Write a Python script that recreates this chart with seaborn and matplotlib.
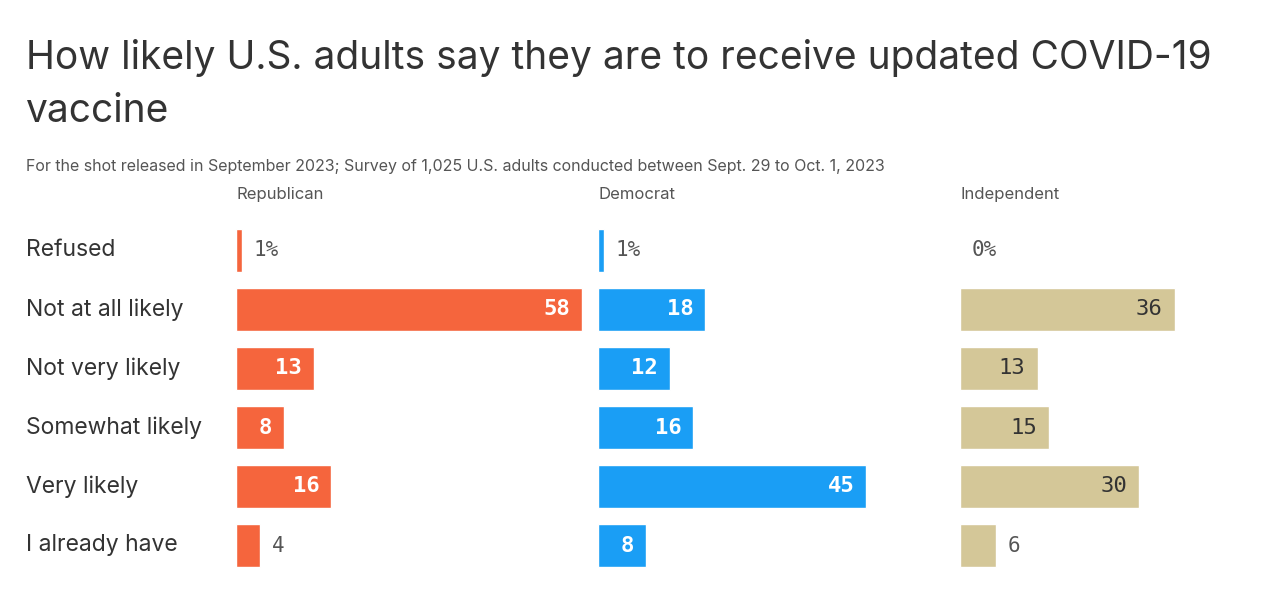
import matplotlib
matplotlib.use("Agg")
import matplotlib.pyplot as plt
import seaborn as sns

categories = ["Refused", "Not at all likely", "Not very likely",
              "Somewhat likely", "Very likely", "I already have"]
republican = [1, 58, 13, 8, 16, 4]
democrat = [1, 18, 12, 16, 45, 8]
independent = [0, 36, 13, 15, 30, 6]
groups = ["Republican", "Democrat", "Independent"]

sns.set_style("white")
plt.rcParams["font.family"] = ["Inter", "DejaVu Sans"]

W, H = 1280, 612
fig = plt.figure(figsize=(12.8, 6.12), dpi=100)
fig.text(26 / W, 1 - 58 / H, "How likely U.S. adults say they are to receive updated COVID-19",
         fontsize=28, color="#333333", va="center")
fig.text(26 / W, 1 - 112 / H, "vaccine", fontsize=28, color="#333333", va="center")
fig.text(26 / W, 1 - 167 / H,
         "For the shot released in September 2023; Survey of 1,025 U.S. adults conducted between Sept. 29 to Oct. 1, 2023",
         fontsize=11.5, color="#555555", va="center")

series = [republican, democrat, independent]
colors = ["#F5653D", "#1A9EF5", "#D4C798"]
inside_text = ["white", "white", "#333333"]
lefts = [236, 598, 960]
px_per_unit = 346 / 58
span = 60

for i, (vals, col, left) in enumerate(zip(series, colors, lefts)):
    ax = fig.add_axes([left / W, 1 - 575 / H, span * px_per_unit / W, 354 / H])
    sns.barplot(x=vals, y=categories, orient="h", color=col, ax=ax,
                width=0.72, saturation=1)
    ax.set_xlim(0, span)
    ax.set_ylim(5.5, -0.5)
    ax.axis("off")
    ax.text(0, -0.82, groups[i], fontsize=12, color="#555555", va="bottom")
    for j, v in enumerate(vals):
        label = f"{v}%" if j == 0 else str(v)
        if v <= 6:
            ax.text(v + 12 / px_per_unit, j, label, family="DejaVu Sans Mono",
                    fontsize=15, color="#555555", va="center", ha="left")
        else:
            ax.text(v - 12 / px_per_unit, j, label, family="DejaVu Sans Mono",
                    fontsize=16, color=inside_text[i], va="center", ha="right",
                    fontweight="bold" if i < 2 else "normal")

ax0 = fig.add_axes([0, 1 - 575 / H, 1, 354 / H])
ax0.set_xlim(0, 1)
ax0.set_ylim(5.5, -0.5)
ax0.axis("off")
ax0.patch.set_alpha(0)
for j, c in enumerate(categories):
    ax0.text(26 / W, j, c, fontsize=16.5, color="#333333", va="center")

fig.savefig("out.png", dpi=100, facecolor="white")
